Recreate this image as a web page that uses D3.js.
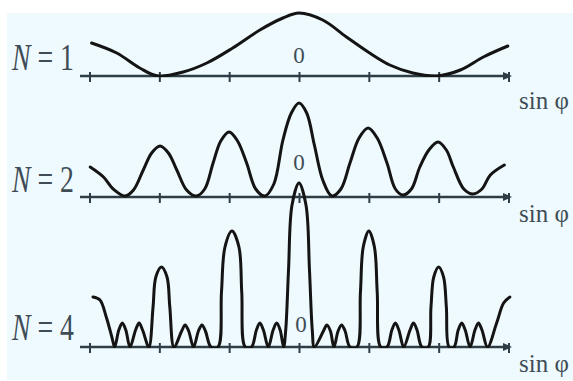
<!DOCTYPE html>
<html>
<head>
<meta charset="utf-8">
<script src="https://cdn.jsdelivr.net/npm/d3@7/dist/d3.min.js"></script>
<style>
  body { margin: 0; background: #fff; }
  svg { display: block; }
  .lbl { font-family: "Liberation Serif", "DejaVu Serif", serif; fill: #3f4c56; }
</style>
</head>
<body>
<div id="chart"></div>
<script>
// Tick positions along sin(phi), in units of lambda/d
var tickValues = [-3, -2, -1, 0, 1, 2, 3];

// Panel labels
var slitCounts = [1, 2, 4];

// Intensity (arbitrary units) : [sin phi, I]
var curveN1 = [
  [-2.97, 33], [-2.61, 23], [-2.28, 8], [-2.02, 0], [-1.66, 4], [-1.32, 13],
  [-0.95, 28], [-0.56, 46], [-0.23, 58], [0, 63], [0.34, 56], [0.68, 39],
  [0.99, 24], [1.30, 11], [1.63, 3], [1.97, 0], [2.31, 6], [2.64, 19], [2.99, 30]
];

var curveN2 = [
  [-2.99, 30], [-2.80, 20], [-2.66, 8], [-2.49, 1],
  [-2.37, 7], [-2.23, 27], [-2.11, 44], [-1.99, 51], [-1.87, 44], [-1.75, 27], [-1.61, 7], [-1.47, 1],
  [-1.35, 8], [-1.23, 34], [-1.12, 56], [-1.00, 65], [-0.88, 56], [-0.75, 34], [-0.62, 8], [-0.49, 1],
  [-0.36, 13], [-0.23, 57], [-0.11, 84], [0, 94], [0.11, 84], [0.22, 52], [0.34, 17], [0.47, 1],
  [0.60, 8], [0.73, 34], [0.86, 59], [0.99, 69], [1.12, 59], [1.26, 34], [1.38, 8], [1.49, 2],
  [1.61, 8], [1.73, 30], [1.86, 47], [1.99, 55], [2.11, 47], [2.21, 30], [2.36, 8], [2.49, 3],
  [2.62, 8], [2.74, 22], [2.94, 32]
];

var curveN4 = [
  [-2.95, 50], [-2.85, 47], [-2.76, 30], [-2.68, 10], [-2.64, 0],
  [-2.58, 17], [-2.53, 24], [-2.48, 17], [-2.42, 0],
  [-2.34, 17], [-2.29, 24], [-2.24, 17], [-2.15, 0],
  [-2.09, 40], [-2.05, 70], [-1.97, 80], [-1.89, 70], [-1.85, 40], [-1.79, 0],
  [-1.68, 16], [-1.63, 22], [-1.58, 16], [-1.51, 0],
  [-1.44, 16], [-1.39, 22], [-1.34, 16], [-1.26, 0], [-1.16, 0],
  [-1.11, 55], [-1.06, 100], [-0.96, 116], [-0.86, 100], [-0.82, 55], [-0.77, 0],
  [-0.68, 0], [-0.61, 17], [-0.56, 24], [-0.51, 17], [-0.44, 0],
  [-0.37, 17], [-0.32, 24], [-0.27, 17], [-0.22, 0],
  [-0.19, 17], [-0.15, 77], [-0.1, 142], [0, 164], [0.1, 142], [0.15, 77],
  [0.19, 17], [0.22, 0],
  [0.35, 16], [0.40, 22], [0.45, 16], [0.50, 0],
  [0.56, 16], [0.61, 22], [0.66, 16], [0.73, 0], [0.83, 0],
  [0.88, 55], [0.92, 100], [1.00, 116], [1.08, 100], [1.12, 55], [1.17, 0],
  [1.26, 0], [1.33, 17], [1.38, 24], [1.43, 17], [1.50, 0],
  [1.59, 17], [1.64, 24], [1.69, 17], [1.76, 0], [1.85, 0],
  [1.89, 40], [1.93, 70], [2.00, 80], [2.07, 70], [2.11, 40], [2.15, 0],
  [2.22, 0], [2.28, 17], [2.33, 24], [2.38, 17], [2.45, 0],
  [2.52, 17], [2.57, 24], [2.62, 17], [2.70, 0],
  [2.83, 24], [2.93, 44], [3.02, 50]
];

var curves = [curveN1, curveN2, curveN4];

// Layout
var w = 573, h = 381;
var axisY = [76, 197, 347];
var zeroY = [63, 170, 332];
var nameY = [70, 192, 340];
var sinY = [109, 222, 372];

var svg = d3.select("#chart").append("svg")
  .attr("width", w)
  .attr("height", h);

// light panel background
svg.append("rect")
  .attr("x", 7).attr("y", 13)
  .attr("width", w - 7).attr("height", h - 14)
  .attr("fill", "#eefafd");

var x = d3.scaleLinear().domain([-3, 3]).range([89.5, 508.5]);

var defs = svg.append("defs");

slitCounts.forEach(function(n, i) {
  var y = d3.scaleLinear().domain([0, 100]).range([axisY[i], axisY[i] - 100]);
  var g = svg.append("g").attr("class", "panel");

  // keep the curve from dipping under its axis
  defs.append("clipPath").attr("id", "clip" + i)
    .append("rect")
    .attr("x", 0).attr("y", 0)
    .attr("width", w).attr("height", axisY[i] + 1);

  // axis line with ticks
  g.append("line")
    .attr("x1", 80).attr("x2", 506)
    .attr("y1", axisY[i]).attr("y2", axisY[i])
    .attr("stroke", "#2e3d46").attr("stroke-width", 2.6);

  var ax = g.append("g")
    .attr("transform", "translate(0," + axisY[i] + ")")
    .call(d3.axisBottom(x).tickValues(tickValues).tickSize(6).tickFormat(""));
  ax.select(".domain").remove();
  ax.selectAll(".tick line")
    .attr("y1", -4)
    .attr("stroke", "#2e3d46")
    .attr("stroke-width", 2);

  // arrow head
  g.append("path")
    .attr("d", "M" + 503 + "," + (axisY[i] - 4) + "L" + 512 + "," + axisY[i] + "L" + 503 + "," + (axisY[i] + 4) + "Z")
    .attr("fill", "#2e3d46");

  // intensity curve
  var line = d3.line()
    .x(function(d) { return x(d[0]); })
    .y(function(d) { return y(d[1]); })
    .curve(d3.curveCatmullRom.alpha(0.5));

  g.append("path")
    .datum(curves[i])
    .attr("d", line)
    .attr("clip-path", "url(#clip" + i + ")")
    .attr("fill", "none")
    .attr("stroke", "#141414")
    .attr("stroke-width", 3)
    .attr("stroke-linejoin", "round")
    .attr("stroke-linecap", "round");

  // labels
  var t = g.append("text")
    .attr("class", "lbl")
    .attr("transform", "translate(12," + nameY[i] + ") scale(0.75,1)")
    .attr("font-size", 37);
  t.append("tspan").attr("font-style", "italic").text("N");
  t.append("tspan").text(" = " + n);

  g.append("text")
    .attr("class", "lbl")
    .attr("x", x(0) + (i === 2 ? 2 : 0))
    .attr("y", zeroY[i])
    .attr("text-anchor", "middle")
    .attr("font-size", 23)
    .text("0");

  g.append("text")
    .attr("class", "lbl")
    .attr("x", 519)
    .attr("y", sinY[i])
    .attr("font-size", 25)
    .text("sin φ");
});
</script>
</body>
</html>
